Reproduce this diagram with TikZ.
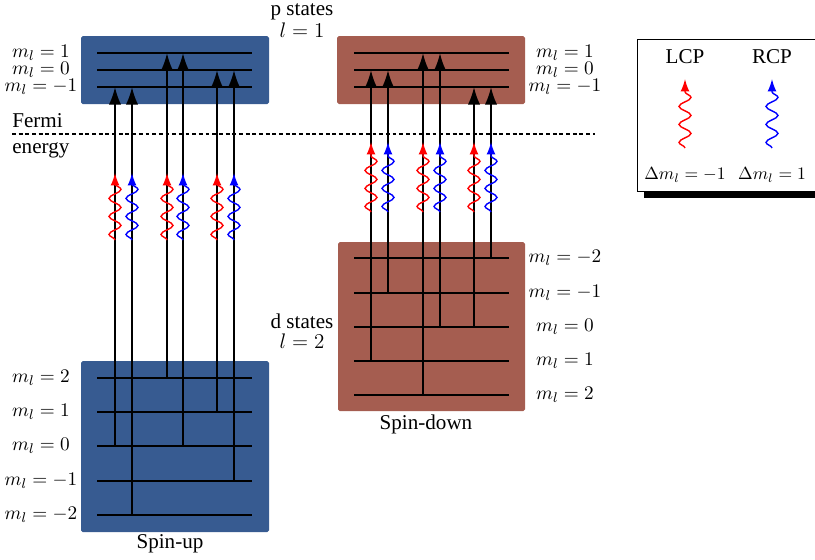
\documentclass[tikz,border=0pt]{standalone}
\usepackage{fontspec}
\setmainfont{Liberation Serif}
\usetikzlibrary{arrows.meta, decorations.pathmorphing, shadows, positioning, calc}

\definecolor{upblue}{RGB}{55,91,145}
\definecolor{downred}{RGB}{165,93,80}

\tikzset{
  level/.style={line width=0.8pt},
  trans/.style={line width=1.2pt, -{Latex[length=10pt, width=7pt]}},
  photon/.style={#1, line width=0.8pt, -{Latex[length=7pt, width=5pt]}, decorate,
    decoration={snake, amplitude=0.12cm, segment length=0.36cm, post length=2mm}},
  mlab/.style={font=\fontsize{11}{13}\selectfont},
  statebox/.style={rounded corners=1pt}
}

\begin{document}
\begin{tikzpicture}[x=0.02cm, y=-0.02cm, font=\fontsize{12}{14}\selectfont]
\clip (0,0) rectangle (815,559);

% bands
\fill[upblue, statebox] (81,36) rectangle (269,104);
\fill[upblue, statebox] (81,361) rectangle (269,532);
\fill[downred, statebox] (337,36) rectangle (525,104);
\fill[downred, statebox] (338,242) rectangle (525,411);

% p levels
\foreach \n/\y/\t in {1/53/1, 0/70/0, m1/87/-1} {
  \coordinate (uP\n) at (97,\y);
  \coordinate (dP\n) at (354,\y);
  \draw[level] (uP\n) -- ++(155,0);
  \draw[level] (dP\n) -- ++(155,0);
  \node[mlab, inner sep=0pt] (uPlab\n) at (41,\y) {$m_l=\t$};
  \node[mlab, inner sep=0pt] (dPlab\n) at (565,\y) {$m_l=\t$};
}

% d levels, spin-up
\foreach \n/\y/\t in {2/378/2, 1/412/1, 0/446/0, m1/481/-1, m2/515/-2} {
  \coordinate (uD\n) at (97,\y);
  \draw[level] (uD\n) -- ++(155,0);
  \node[mlab] (uDlab\n) at (41,\y) {$m_l=\t$};
}

% d levels, spin-down
\foreach \n/\y/\t in {m2/258/-2, m1/293/-1, 0/327/0, 1/361/1, 2/395/2} {
  \coordinate (dD\n) at (354,\y);
  \draw[level] (dD\n) -- ++(155,0);
  \node[mlab] (dDlab\n) at (565,\y) {$m_l=\t$};
}

% Fermi level
\coordinate (fermiL) at (12,134);
\coordinate (fermiR) at (595,134);
\draw[dash pattern=on 2.2pt off 1.6pt, line width=0.6pt] (fermiL) -- (fermiR);
\node[anchor=base west, inner sep=0pt] (fermi) at (12,127) {Fermi};
\node[anchor=base west, inner sep=0pt] (energy) at (12,153) {energy};

\node[anchor=base, inner sep=0pt] (pstates) at (302,15) {p states};
\node (lp) at (302,30) {$l=1$};
\node[anchor=base] (dstates) at (302,328) {d states};
\node[anchor=base] (ld) at (302,348) {$l=2$};
\node[anchor=base] (spinup) at (170,548) {Spin-up};
\node[anchor=base] (spindown) at (426,429) {Spin-down};

% transitions, spin-up
\foreach \x/\a/\b/\c in {115/uD0/uPm1/red, 132/uDm2/uPm1/blue,
    167/uD2/uP1/red, 183/uD0/uP1/blue, 217/uD1/uP0/red, 234/uDm1/uP0/blue} {
  \coordinate (col) at (\x,0);
  \draw[trans] (col |- \a) -- (col |- \b);
  \draw[photon=\c] (\x,240) -- (\x,173);
}

% transitions, spin-down
\foreach \x/\a/\b/\c in {371/dD1/dP0/red, 388/dDm1/dP0/blue,
    423/dD2/dP1/red, 440/dD0/dP1/blue, 474/dD0/dPm1/red, 491/dDm2/dPm1/blue} {
  \coordinate (col) at (\x,0);
  \draw[trans] (col |- \a) -- (col |- \b);
  \draw[photon=\c] (\x,212) -- (\x,142);
}

% legend
\draw[fill=white, drop shadow={shadow xshift=0.14cm, shadow yshift=-0.14cm,
  opacity=1, fill=black}] (637,39) rectangle (830,191);
\node (lcp) at (685,57) {LCP};
\node (rcp) at (772,57) {RCP};
\draw[photon=red] (685,148) -- (685,79);
\draw[photon=blue] (772,148) -- (772,79);
\node[font=\fontsize{10}{12}\selectfont] (dlcp) at (685,175) {$\Delta m_l=-1$};
\node[font=\fontsize{10}{12}\selectfont] (drcp) at (772,175) {$\Delta m_l=1$};
\end{tikzpicture}
\end{document}
